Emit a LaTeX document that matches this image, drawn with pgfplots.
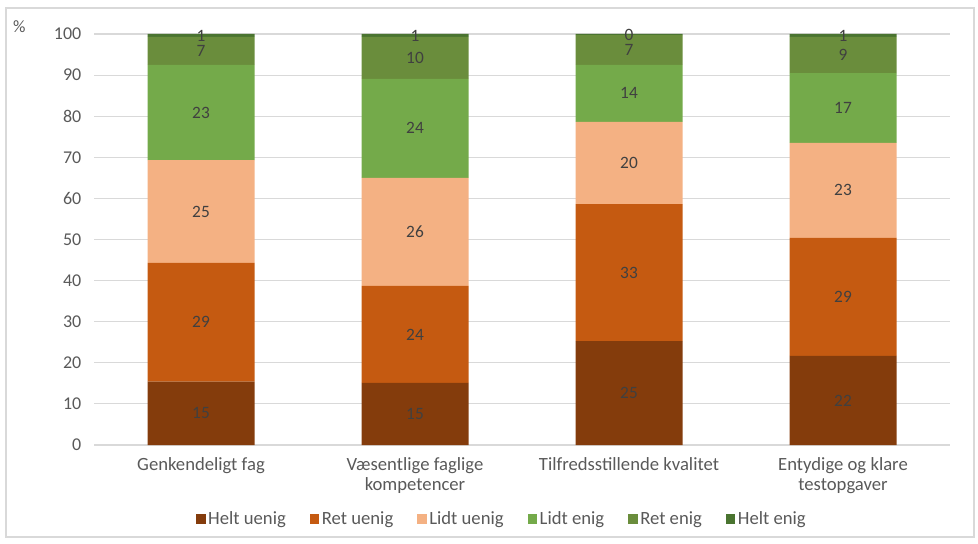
\documentclass[border=0pt]{standalone}
\usepackage{fontspec}
\setmainfont{Carlito}
\usepackage{pgfplots}
\pgfplotsset{compat=1.18}

\definecolor{heltuenig}{HTML}{843C0C}
\definecolor{retuenig}{HTML}{C55A11}
\definecolor{lidtuenig}{HTML}{F4B183}
\definecolor{lidtenig}{HTML}{74AA4A}
\definecolor{retenig}{HTML}{6A8D3C}
\definecolor{heltenig}{HTML}{4A7430}
\definecolor{txt}{HTML}{595959}

\begin{document}
\begin{tikzpicture}
\begin{axis}[
    scale only axis,
    width=642pt, height=308.25pt,
    ybar stacked,
    bar width=0.5,
    xmin=-0.5, xmax=3.5,
    ymin=0, ymax=100,
    ytick={0,10,...,100},
    xtick=data,
    xticklabels={Genkendeligt fag,{Væsentlige faglige\\kompetencer},Tilfredsstillende kvalitet,{Entydige og klare\\testopgaver}},
    xticklabel style={align=center, font=\fontsize{14}{15}\selectfont, text=txt, yshift=-6pt},
    yticklabel style={font=\fontsize{13.5}{15}\selectfont, text=txt, xshift=-6pt},
    /pgf/number format/assume math mode=true,
    major tick length=0pt,
    axis line style={draw=none},
    ymajorgrids=true,
    grid style={color=black!15, line width=0.8pt},
    nodes near coords={\pgfmathprintnumber[fixed,precision=0]{\pgfplotspointmeta}},
    every node near coord/.append style={font=\fontsize{13}{14}\selectfont, text=black!75, anchor=center},
    legend columns=6,
    legend style={draw=none, fill=none, at={(0.477,-0.18)}, anchor=center,
        font=\fontsize{14}{15}\selectfont, text=txt,
        /tikz/every even column/.append style={column sep=16pt}},
    legend image code/.code={\fill[#1] (0pt,-3.5pt) rectangle (7pt,3.5pt);},
]
\addplot[fill=heltuenig, draw=none] coordinates {(0,15.4) (1,15.1) (2,25.3) (3,21.7)};
\addlegendentry{Helt uenig}
\addplot[fill=retuenig, draw=none] coordinates {(0,28.9) (1,23.6) (2,33.3) (3,28.7)};
\addlegendentry{Ret uenig}
\addplot[fill=lidtuenig, draw=none] coordinates {(0,25.0) (1,26.3) (2,20.0) (3,23.1)};
\addlegendentry{Lidt uenig}
\addplot[fill=lidtenig, draw=none] coordinates {(0,23.2) (1,24.1) (2,13.9) (3,17.0)};
\addlegendentry{Lidt enig}
\addplot[fill=retenig, draw=none] coordinates {(0,6.8) (1,10.2) (2,7.2) (3,8.8)};
\addlegendentry{Ret enig}
\addplot[fill=heltenig, draw=none] coordinates {(0,0.7) (1,0.7) (2,0.3) (3,0.7)};
\addlegendentry{Helt enig}
\end{axis}
\node[font=\fontsize{13}{15}\selectfont, text=txt] at (-56pt,313.5pt) {\%};
\draw[black!15, line width=0.8pt] (-66pt,-69pt) rectangle (660pt,327.75pt);
\useasboundingbox (-70.5pt,-73.5pt) rectangle (663pt,333.75pt);
\end{tikzpicture}
\end{document}
